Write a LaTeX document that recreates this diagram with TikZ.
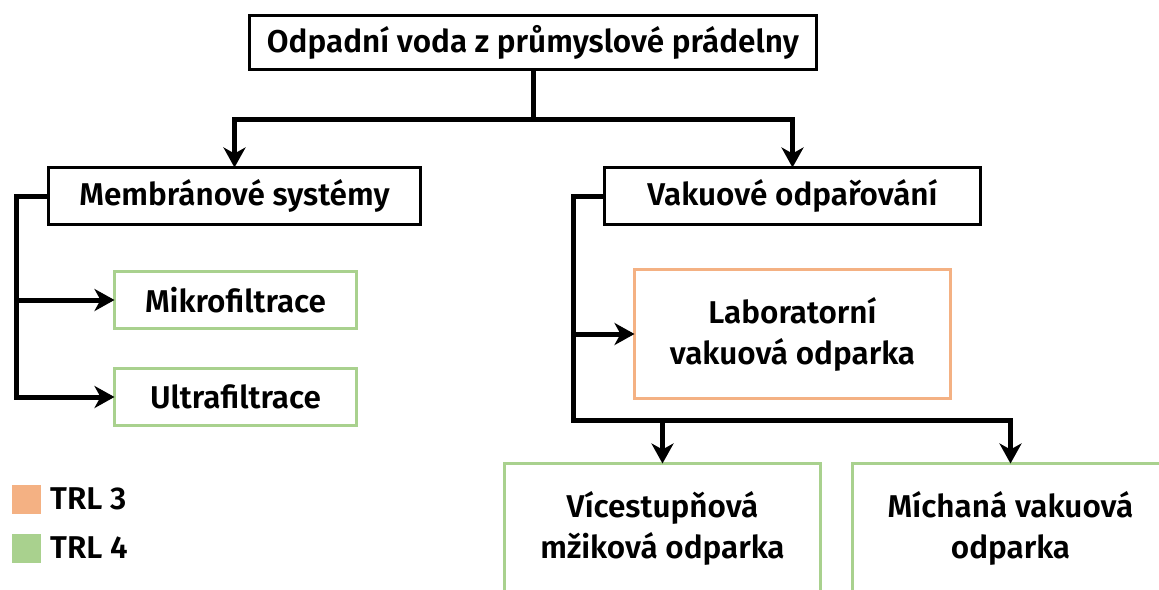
\documentclass[tikz,border=0pt]{standalone}
\usepackage{fontspec}
\setmainfont{Fira Sans}[UprightFont=* SemiBold]
\usetikzlibrary{arrows.meta}
\definecolor{trlgreen}{RGB}{169,209,142}
\definecolor{trlorange}{RGB}{244,177,131}
\begin{document}
\begin{tikzpicture}[x=1pt,y=-1pt,
  box/.style={draw, line width=3pt, inner sep=0pt, outer sep=0pt, align=center,
    font=\fontsize{31.5}{41}\selectfont},
  blackbox/.style={box, draw=black},
  greenbox/.style={box, draw=trlgreen},
  orangebox/.style={box, draw=trlorange},
  link/.style={line width=5pt, line join=miter},
  arr/.style={link, -{Stealth[length=20pt,width=22pt,inset=6pt]}},
  keybox/.style={minimum size=29pt, inner sep=0pt, outer sep=0pt},
  keytext/.style={anchor=base west, inner sep=0pt, font=\fontsize{31.5}{41}\selectfont},
]
\useasboundingbox (0,0) rectangle (1159,589);
\clip (0,0) rectangle (1159,589);

% boxes
\node[blackbox, minimum width=567pt, minimum height=54pt] (src) at (533,42.5)
  {Odpadní voda z průmyslové prádelny};
\node[blackbox, minimum width=372pt, minimum height=57pt] (mem) at (234.5,196)
  {Membránové systémy};
\node[blackbox, minimum width=376pt, minimum height=57pt] (vak) at (792.5,196)
  {Vakuové odpařování};
\node[greenbox, minimum width=242pt, minimum height=57pt] (mikro) at (235.5,300)
  {Mikrofiltrace};
\node[greenbox, minimum width=242pt, minimum height=57pt] (ultra) at (235.5,397)
  {Ultrafiltrace};
\node[orangebox, minimum width=316pt, minimum height=129pt] (lab) at (792.5,334)
  {Laboratorní\\vakuová odparka};
\node[greenbox, minimum width=316pt, minimum height=129pt] (vice) at (662.5,528)
  {Vícestupňová\\mžiková odparka};
\node[greenbox, minimum width=316pt, minimum height=129pt] (mich) at (1010.5,528)
  {Míchaná vakuová\\odparka};

% connectors
\coordinate (split) at (533,119);
\coordinate (lspine) at (16.5,397);
\coordinate (rspine) at (573,420);
\draw[link] (src.south) -- (split);
\draw[arr] (split) -| (mem.north);
\draw[arr] (split) -| (vak.north);
\draw[arr] (mem.west) -| (lspine) -- (ultra.west);
\draw[arr] (mikro.west -| lspine) -- (mikro.west);
\draw[arr] (vak.west) -| (rspine) -| (mich.north);
\draw[arr] (lab.west -| rspine) -- (lab.west);
\draw[arr] (vice.north |- rspine) -- (vice.north);

% legend
\node[keybox, fill=trlorange] (k3) at (26.5,499.5) {};
\node[keybox, fill=trlgreen] (k4) at (26.5,548) {};
\node[keytext] (t3) at (50,509) {TRL 3};
\node[keytext] (t4) at (50,558) {TRL 4};
\end{tikzpicture}
\end{document}
